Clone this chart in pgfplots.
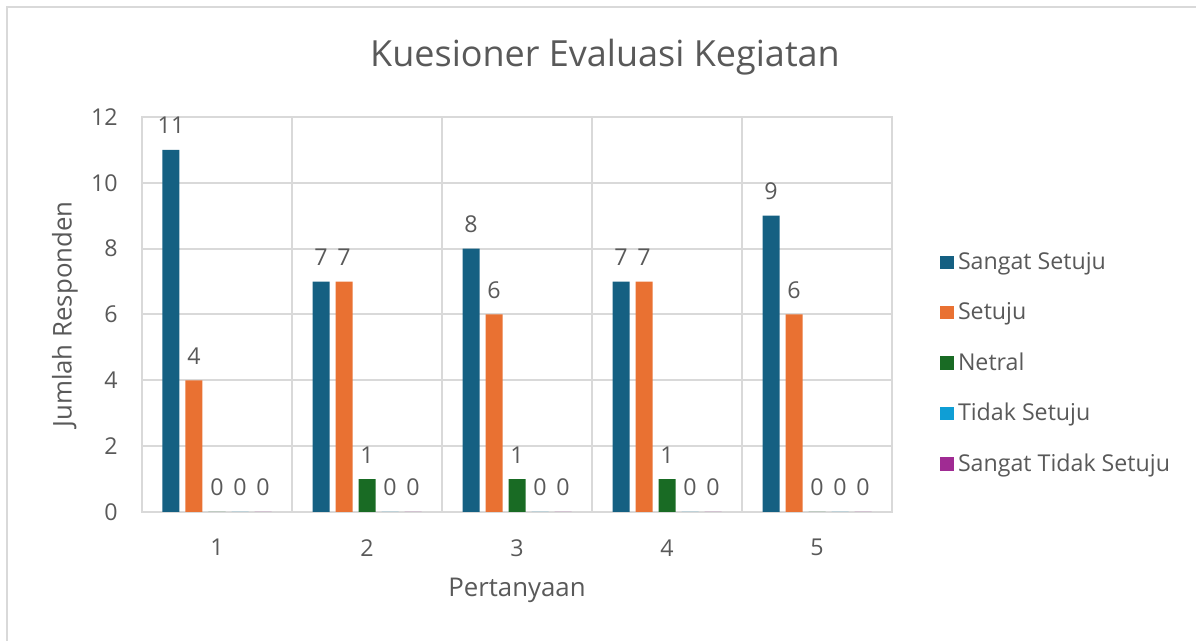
\documentclass[border=0pt]{standalone}
\usepackage{pgfplots}
\pgfplotsset{compat=1.18}
\usepackage{fontspec}
\setmainfont{Open Sans}
\definecolor{txt}{HTML}{595959}
\definecolor{grd}{HTML}{D9D9D9}
\definecolor{cSS}{HTML}{156082}
\definecolor{cS}{HTML}{E97132}
\definecolor{cN}{HTML}{196B24}
\definecolor{cTS}{HTML}{0F9ED5}
\definecolor{cSTS}{HTML}{A02B93}
\begin{document}
\begin{tikzpicture}[x=1pt,y=1pt]
\path[use as bounding box] (0,0) rectangle (598,320.5);
\draw[grd, line width=1pt] (3.5,0) -- (3.5,317) -- (598,317);
\begin{axis}[
  at={(71pt,64.5pt)}, anchor=south west,
  scale only axis, width=375pt, height=197.5pt,
  ybar=3pt, bar width=8.5pt,
  xmin=0.5, xmax=5.5, ymin=0, ymax=12,
  xtick={1,2,3,4,5},
  ytick={0,2,...,12},
  minor xtick={1.5,2.5,3.5,4.5},
  xminorgrids=true, ymajorgrids=true,
  major tick length=0pt, minor tick length=0pt,
  axis line style={grd, line width=1pt},
  grid style={grd, line width=1pt},
  minor grid style={grd, line width=1pt},
  every tick label/.append style={font=\fontsize{11.6}{14}\selectfont, text=txt},
  /pgf/number format/assume math mode=true,
  yticklabel style={inner sep=0pt, xshift=-12pt},
  xticklabel style={inner sep=0pt, yshift=-13.5pt},
  xlabel={Pertanyaan}, ylabel={Jumlah Responden},
  every axis x label/.style={at={(axis description cs:0.5,0)}, yshift=-39pt, anchor=center, font=\fontsize{12.9}{15}\selectfont, text=txt},
  every axis y label/.style={at={(axis description cs:0,0.5)}, xshift=-38.5pt, rotate=90, anchor=center, font=\fontsize{12.9}{15}\selectfont, text=txt},
  nodes near coords,
  every node near coord/.append style={font=\fontsize{11.6}{14}\selectfont, text=txt, yshift=4.5pt},
  legend style={at={(axis description cs:1.064,0.376)}, anchor=west, draw=none, fill=none, inner sep=0pt,
    font=\fontsize{11.6}{14}\selectfont, text=txt, row sep=11pt, legend cell align=left},
  legend image code/.code={\fill[#1] (0pt,-3.4pt) rectangle (6.8pt,3.4pt);},
]
\addplot[draw=none, fill=cSS] coordinates {(1,11) (2,7) (3,8) (4,7) (5,9)};
\addplot[draw=none, fill=cS] coordinates {(1,4) (2,7) (3,6) (4,7) (5,6)};
\addplot[draw=none, fill=cN] coordinates {(1,0) (2,1) (3,1) (4,1) (5,0)};
\addplot[draw=none, fill=cTS] coordinates {(1,0) (2,0) (3,0) (4,0) (5,0)};
\addplot[draw=none, fill=cSTS] coordinates {(1,0) (2,0) (3,0) (4,0) (5,0)};
\legend{Sangat Setuju, Setuju, Netral, Tidak Setuju, Sangat Tidak Setuju}
\end{axis}
\node[text=txt, font=\fontsize{18}{21}\selectfont] at (302.5,292) {Kuesioner Evaluasi Kegiatan};
\end{tikzpicture}
\end{document}
